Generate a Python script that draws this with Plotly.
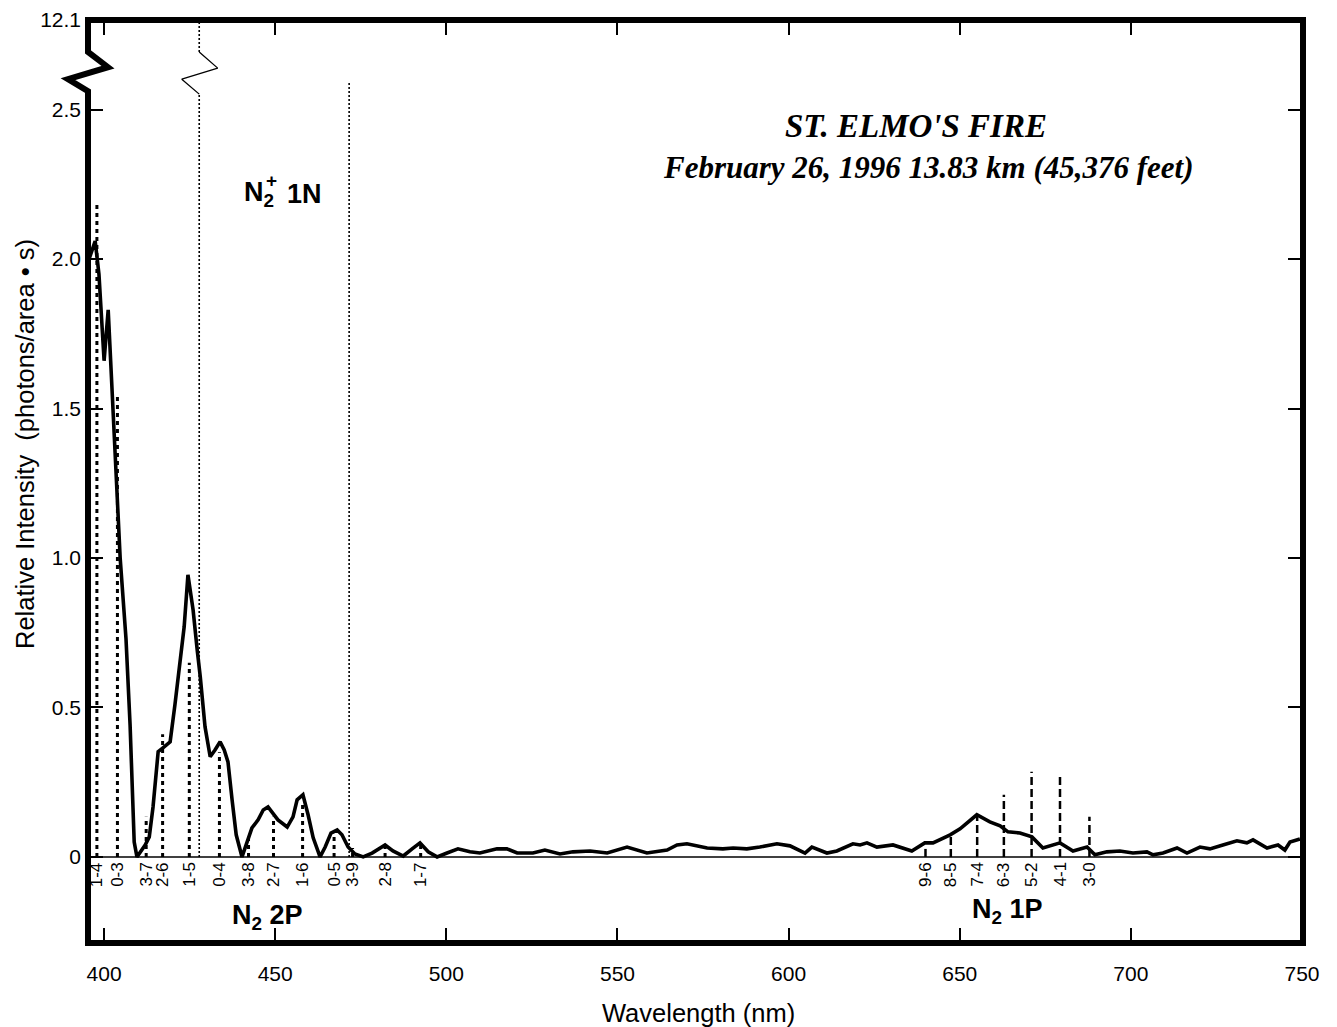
import plotly.graph_objects as go

# ---------------- data ----------------
wavelength = [395.6, 397.4, 398.5, 400.0, 401.2, 402.6, 403.8, 404.7, 406.4, 407.6, 408.8, 409.6,
              412.0, 413.2, 414.3, 415.8, 417.2, 419.3, 420.7, 422.2, 423.4, 424.5, 426.0, 427.2,
              428.1, 429.5, 431.0, 432.4, 433.9, 435.1, 436.2, 437.4, 438.6, 440.3, 441.8, 443.2,
              445.0, 446.5, 447.9, 450.8, 453.5, 455.2, 456.4, 458.1, 459.6, 461.1, 463.1, 464.6,
              466.3, 468.1, 469.5, 471.3, 473.3, 475.7, 478.3, 482.1, 484.4, 487.4, 490.0, 492.3,
              494.7, 497.3, 500.2, 503.4, 506.9, 509.8, 514.8, 517.7, 520.7, 525.3, 528.8, 533.2,
              537.0, 542.0, 547.0, 552.8, 558.6, 564.5, 567.4, 570.3, 576.2, 580.8, 583.8, 587.8,
              591.6, 596.6, 600.4, 604.8, 606.8, 611.2, 614.1, 618.8, 620.9, 622.9, 625.8, 630.5,
              636.0, 639.8, 642.2, 647.2, 650.1, 655.0, 658.8, 661.8, 664.1, 667.6, 671.1, 674.3,
              679.3, 683.1, 687.2, 689.5, 693.0, 696.8, 700.6, 704.7, 706.5, 709.4, 713.5, 716.4,
              720.2, 723.1, 726.9, 731.0, 733.9, 735.7, 739.8, 743.0, 745.0, 746.5, 749.4]
intensity = [2.00, 2.06, 1.95, 1.66, 1.83, 1.50, 1.26, 1.00, 0.73, 0.44, 0.05, 0.00,
             0.04, 0.067, 0.167, 0.352, 0.365, 0.385, 0.509, 0.643, 0.770, 0.944, 0.827, 0.693,
             0.603, 0.435, 0.335, 0.358, 0.385, 0.358, 0.318, 0.191, 0.074, 0.00, 0.047, 0.097,
             0.124, 0.157, 0.167, 0.124, 0.100, 0.134, 0.191, 0.208, 0.141, 0.064, 0.00, 0.033,
             0.080, 0.090, 0.074, 0.033, 0.010, 0.00, 0.013, 0.040, 0.020, 0.003, 0.027, 0.047,
             0.017, 0.00, 0.013, 0.027, 0.017, 0.013, 0.027, 0.027, 0.013, 0.013, 0.023, 0.010,
             0.017, 0.020, 0.013, 0.033, 0.013, 0.023, 0.040, 0.044, 0.030, 0.027, 0.030, 0.027,
             0.033, 0.044, 0.037, 0.013, 0.033, 0.013, 0.020, 0.044, 0.040, 0.047, 0.033, 0.040,
             0.020, 0.047, 0.047, 0.074, 0.094, 0.141, 0.117, 0.104, 0.084, 0.080, 0.067, 0.030,
             0.047, 0.020, 0.033, 0.007, 0.017, 0.020, 0.013, 0.017, 0.007, 0.013, 0.030, 0.013,
             0.033, 0.027, 0.040, 0.054, 0.047, 0.057, 0.030, 0.040, 0.023, 0.050, 0.060]

n2_2p_labels = ["1-4", "0-3", "3-7", "2-6", "1-5", "0-4", "3-8", "2-7", "1-6", "0-5", "3-9", "2-8", "1-7"]
n2_2p_pos = [397.9, 403.9, 412.3, 417.1, 424.9, 433.7, 442.2, 449.5, 458.0, 467.2, 472.6, 482.1, 492.5]
n2_2p_height = [2.19, 1.54, 0.134, 0.41, 0.65, 0.35, 0.067, 0.134, 0.18, 0.08, 0.03, 0.04, 0.047]

n2_1p_labels = ["9-6", "8-5", "7-4", "6-3", "5-2", "4-1", "3-0"]
n2_1p_pos = [640.0, 647.4, 655.1, 662.9, 671.0, 679.3, 687.9]
n2_1p_height = [0.04, 0.074, 0.14, 0.208, 0.285, 0.278, 0.134]

n2p_1n_pos = [427.8, 471.6]
n2p_1n_height = [2.8, 2.59]

x_ticks = [400, 450, 500, 550, 600, 650, 700, 750]
y_ticks = [0, 0.5, 1.0, 1.5, 2.0, 2.5, 2.8]
y_ticktext = ["0", "0.5", "1.0", "1.5", "2.0", "2.5", "12.1"]

# axis break (the plotted scale jumps from ~2.7 to 12.1)
break_y = [2.693, 2.639, 2.602, 2.552]

X_RANGE = [395.3, 750.3]
Y_RANGE = [-0.288, 2.8]

TICK_FONT = dict(family="Liberation Sans Narrow, Liberation Sans, Arial", size=21, color="black")
LABEL_FONT = dict(family="Liberation Sans Narrow, Liberation Sans, Arial", size=17, color="black")
BOLD_FONT = dict(family="Liberation Sans Narrow, Liberation Sans, Arial", size=27, color="black", weight="bold")
TITLE_FONT = dict(family="Liberation Serif, Times New Roman", size=31, color="black",
                  weight="bold", style="italic")

# page offset: the page body adds 8 px around the figure
OFF = 8
W, H = 1337 - OFF, 1027 - OFF
ML, MT = 88 - OFF, 20 - OFF
PW, PH = 1215, 923
MR, MB = W - ML - PW, H - MT - PH


def px_x(x):
    return (x - OFF - ML) / PW


def px_y(y):
    return 1 - (y - OFF - MT) / PH


def sticks(pos, height):
    xs, ys = [], []
    for p, h in zip(pos, height):
        xs += [p, p, None]
        ys += [0, h, None]
    return xs, ys


fig = go.Figure()

# N2+ 1N thin dotted lines (first one broken at the axis break)
p0, p1 = n2p_1n_pos
xs = [p0, p0, None, p0, p0, None, p1, p1]
ys = [0, break_y[3], None, break_y[0], n2p_1n_height[0], None, 0, n2p_1n_height[1]]
fig.add_trace(go.Scatter(x=xs, y=ys, mode="lines", line=dict(color="black", width=1.6, dash="2px,2px"),
                         hoverinfo="skip", showlegend=False))
fig.add_trace(go.Scatter(x=[p0, p0 + 5.4, p0 - 5.1, p0], y=break_y, mode="lines",
                         line=dict(color="black", width=1.3), hoverinfo="skip", showlegend=False))

# N2 2P band positions (heavy dotted)
sx, sy = sticks(n2_2p_pos, n2_2p_height)
fig.add_trace(go.Scatter(x=sx, y=sy, mode="lines", line=dict(color="black", width=3, dash="4px,4px"),
                         hoverinfo="skip", showlegend=False))
# N2 1P band positions (dashed)
sx, sy = sticks(n2_1p_pos, n2_1p_height)
fig.add_trace(go.Scatter(x=sx, y=sy, mode="lines", line=dict(color="black", width=2.5, dash="8px,4px"),
                         hoverinfo="skip", showlegend=False))

# Spectrum
fig.add_trace(go.Scatter(x=wavelength, y=intensity, mode="lines",
                         line=dict(color="black", width=3.6), hoverinfo="skip", showlegend=False))

# helper trace for mirrored tick axes
fig.add_trace(go.Scatter(x=[X_RANGE[0]], y=[Y_RANGE[0]], xaxis="x2", yaxis="y2", mode="markers",
                         marker=dict(opacity=0), hoverinfo="skip", showlegend=False))

# ---------------- annotations ----------------
ann = []
for lab, p in zip(n2_2p_labels + n2_1p_labels, n2_2p_pos + n2_1p_pos):
    ann.append(dict(x=p, y=0, xref="x", yref="y", text=lab, textangle=-90, showarrow=False,
                    xanchor="center", yanchor="top", yshift=-3, font=LABEL_FONT))

ann.append(dict(x=447.8, y=-0.20, xref="x", yref="y", text="N<sub>2</sub> 2P", showarrow=False,
                font=BOLD_FONT, xanchor="center", yanchor="middle"))
ann.append(dict(x=664.0, y=-0.18, xref="x", yref="y", text="N<sub>2</sub> 1P", showarrow=False,
                font=BOLD_FONT, xanchor="center", yanchor="middle"))
ann.append(dict(x=440.4, y=2.217, xref="x", yref="y", text="N<sub>2</sub>", showarrow=False,
                font=BOLD_FONT, xanchor="left", yanchor="middle"))
ann.append(dict(x=449.0, y=2.262, xref="x", yref="y", text="+", showarrow=False,
                font=dict(BOLD_FONT, size=19), xanchor="center", yanchor="middle"))
ann.append(dict(x=452.9, y=2.217, xref="x", yref="y", text="1N", showarrow=False,
                font=BOLD_FONT, xanchor="left", yanchor="middle"))

ann.append(dict(x=px_x(916), y=px_y(126), xref="paper", yref="paper", text="ST. ELMO'S FIRE",
                showarrow=False, xanchor="center", yanchor="middle", font=dict(TITLE_FONT, size=33)))
ann.append(dict(x=px_x(928), y=px_y(168), xref="paper", yref="paper",
                text="February 26, 1996 13.83 km (45,376 feet)", showarrow=False,
                xanchor="center", yanchor="middle", font=TITLE_FONT))

# axis titles
ann.append(dict(x=px_x(698), y=px_y(1013), xref="paper", yref="paper",
                text="Wavelength (nm)", showarrow=False, xanchor="center", yanchor="middle",
                font=dict(family="Liberation Sans, Arial", size=25.5, color="black")))
ann.append(dict(x=px_x(25), y=px_y(444), xref="paper", yref="paper",
                text="Relative Intensity  (photons/area \u2022 s)", textangle=-90, showarrow=False,
                xanchor="center", yanchor="middle",
                font=dict(family="Liberation Sans, Arial", size=25.5, color="black")))


# ---------------- frame with axis-break zigzag ----------------
def py(v):
    return (v - Y_RANGE[0]) / (Y_RANGE[1] - Y_RANGE[0])


dx = 20 / PW
shapes = [
    dict(type="line", xref="paper", yref="y", x0=0, x1=1, y0=0, y1=0, line=dict(color="black", width=1.5)),
    dict(type="path", xref="paper", yref="paper", fillcolor="rgba(0,0,0,0)",
         path=(f"M 0,0 L 1,0 L 1,1 L 0,1 L 0,{py(break_y[0])} "
               f"L {dx},{py(2.642)} L {-dx},{py(2.602)} L 0,{py(2.562)} Z"),
         line=dict(color="black", width=6)),
]

axis_common = dict(showgrid=False, zeroline=False, showline=False, ticks="inside", ticklen=15,
                   tickwidth=1.6, tickcolor="black", automargin=False)

fig.update_layout(
    width=W, height=H,
    margin=dict(l=ML, r=MR, t=MT, b=MB, autoexpand=False),
    paper_bgcolor="white", plot_bgcolor="white",
    showlegend=False,
    xaxis=dict(range=X_RANGE, tickvals=x_ticks, tickfont=TICK_FONT, ticklabelstandoff=16, **axis_common),
    yaxis=dict(range=Y_RANGE, tickvals=y_ticks, ticktext=y_ticktext, tickfont=TICK_FONT,
               ticklabelstandoff=6, **axis_common),
    xaxis2=dict(overlaying="x", side="top", matches="x", tickvals=x_ticks, showticklabels=False,
                **axis_common),
    yaxis2=dict(overlaying="y", side="right", matches="y", tickvals=y_ticks[:-1], showticklabels=False,
                **axis_common),
    annotations=ann,
    shapes=shapes,
)

fig.write_html("out.html")
